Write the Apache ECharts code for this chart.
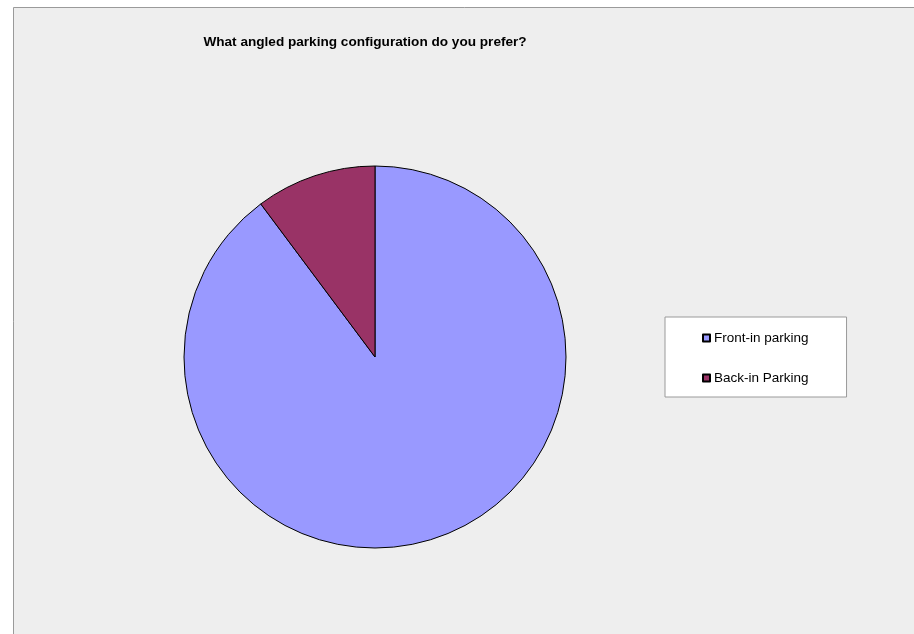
<!DOCTYPE html>
<html><head><meta charset="utf-8">
<script src="https://cdn.jsdelivr.net/npm/echarts@6/dist/echarts.min.js"></script>
<style>html,body{margin:0;padding:0;background:#fff}#c{width:914px;height:634px}</style>
</head><body><div id="c"></div>
<script>
const titleText = 'What angled parking configuration do you prefer?';
const categories = ['Front-in parking', 'Back-in Parking'];
const values = [44, 5];
const colors = ['#9999ff', '#993366'];

const chart = echarts.init(document.getElementById('c'));
chart.setOption({
  animation: false,
  graphic: [{
    type: 'rect', z: -10, silent: true,
    shape: { x: 13.5, y: 7.5, width: 1000, height: 1000 },
    style: { fill: '#eeeeee', stroke: '#9a9a9a', lineWidth: 1 }
  }],
  title: {
    text: titleText, left: 360, top: 30, textAlign: 'center',
    textStyle: { fontFamily: 'Liberation Sans, Arial', fontSize: 13.6, fontWeight: 'bold', color: '#000', lineHeight: 14 }
  },
  legend: {
    orient: 'vertical', left: 665, top: 317,
    backgroundColor: '#ffffff', borderColor: '#9a9a9a', borderWidth: 1,
    padding: [14, 38, 12, 37], itemGap: 26, itemWidth: 7, itemHeight: 7, icon: 'rect',
    textStyle: { fontFamily: 'Liberation Sans, Arial', fontSize: 13.5, color: '#000', padding: [0, 0, 0, -1] },
    data: categories
  },
  series: [{
    type: 'pie', center: [375, 357], radius: 191, startAngle: 90, clockwise: true,
    label: { show: false }, labelLine: { show: false }, emphasis: { disabled: true },
    itemStyle: { borderColor: '#000', borderWidth: 1 },
    data: categories.map((n, i) => ({ name: n, value: values[i], itemStyle: { color: colors[i] } }))
  }]
});
</script></body></html>
